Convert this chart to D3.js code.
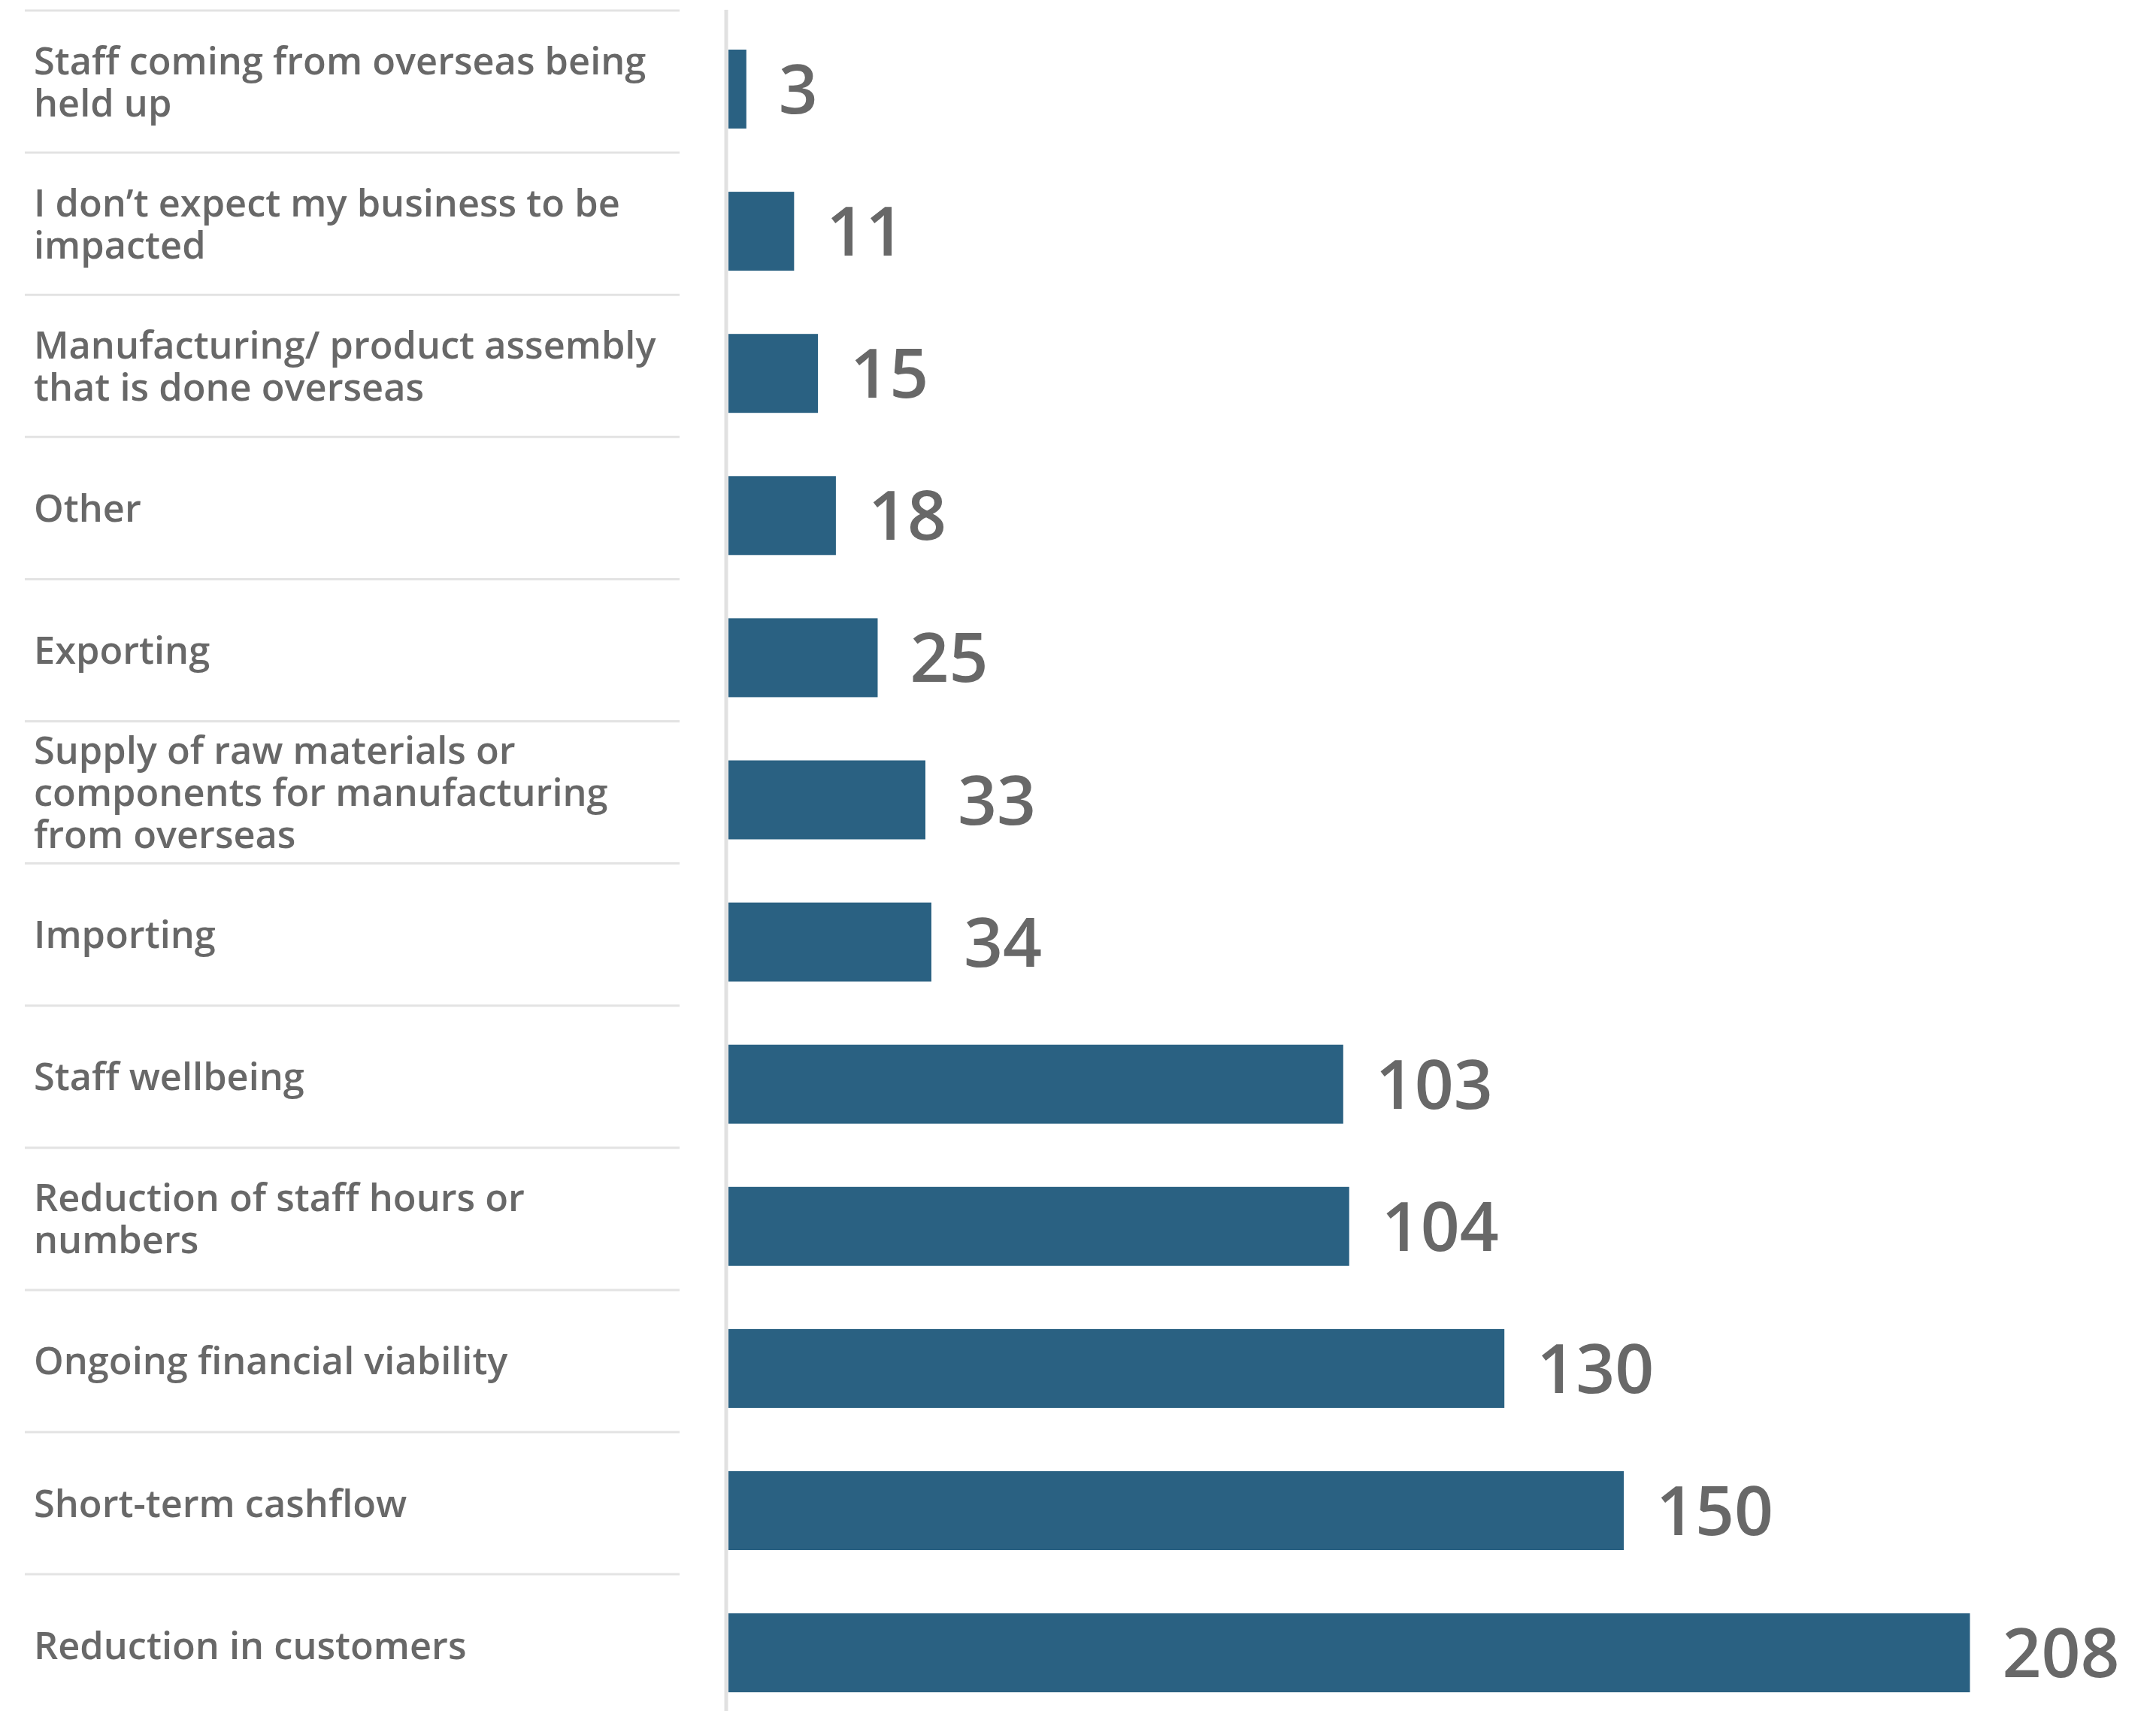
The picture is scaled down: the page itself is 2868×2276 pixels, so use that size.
<!DOCTYPE html>
<html>
<head>
<meta charset="utf-8">
<script src="https://cdn.jsdelivr.net/npm/d3@7/dist/d3.min.js"></script>
<style>
  html, body { margin: 0; padding: 0; background: #ffffff; }
  svg { display: block; }
  text { font-family: "Open Sans", "Noto Sans", sans-serif; }
</style>
</head>
<body>
<svg id="chart"></svg>
<script>
// Concerns reported by businesses (number of responses)
const categories = [
  "Staff coming from overseas being\nheld up",
  "I don\u2019t expect my business to be\nimpacted",
  "Manufacturing/ product assembly\nthat is done overseas",
  "Other",
  "Exporting",
  "Supply of raw materials or\ncomponents for manufacturing\nfrom overseas",
  "Importing",
  "Staff wellbeing",
  "Reduction of staff hours or\nnumbers",
  "Ongoing financial viability",
  "Short-term cashflow",
  "Reduction in customers"
];
const responses = [3, 11, 15, 18, 25, 33, 34, 103, 104, 130, 150, 208];

const W = 2868, H = 2276;
const svg = d3.select("#chart").attr("width", W).attr("height", H);

const rowTop = 14, rowStep = 189.1;
const y = d3.scaleBand()
  .domain(categories)
  .range([rowTop, rowTop + rowStep * categories.length])
  .paddingInner(0).paddingOuter(0);

const x = d3.scaleLinear()
  .domain([0, 208])
  .range([969, 2620.5]);

const textColor = "#686868";
const barColor = "#2a6182";

// row separators under the category labels
svg.append("g")
  .selectAll("line")
  .data(categories)
  .join("line")
  .attr("x1", 33).attr("x2", 904)
  .attr("y1", d => y(d)).attr("y2", d => y(d))
  .attr("stroke", "#e3e3e3")
  .attr("stroke-width", 3);

// vertical baseline
svg.append("line")
  .attr("x1", 966).attr("x2", 966)
  .attr("y1", 13).attr("y2", H)
  .attr("stroke", "#e1e1e1")
  .attr("stroke-width", 5);

// category labels, vertically centred in each row
const fs = 50.5, lh = 56, cap = 36;
const labels = svg.append("g")
  .selectAll("text")
  .data(categories)
  .join("text")
  .attr("fill", textColor)
  .attr("font-size", fs)
  .attr("font-weight", 600)
  .attr("x", 45);

labels.each(function(d) {
  const lines = d.split("\n");
  const cy = y(d) + y.bandwidth() / 2;
  const first = cy + cap / 2 - (lines.length - 1) * lh / 2;
  d3.select(this).selectAll("tspan")
    .data(lines)
    .join("tspan")
    .attr("x", 45)
    .attr("y", (l, i) => first + i * lh)
    .text(l => l);
});

// bars
const barOffset = 52, barH = 105;
const rows = categories.map((c, i) => ({ c, v: responses[i] }));

svg.append("g")
  .selectAll("rect")
  .data(rows)
  .join("rect")
  .attr("x", x(0))
  .attr("y", d => y(d.c) + barOffset)
  .attr("width", d => x(d.v) - x(0))
  .attr("height", barH)
  .attr("fill", barColor);

// value labels
svg.append("g")
  .selectAll("text")
  .data(rows)
  .join("text")
  .attr("x", d => x(d.v) + 43)
  .attr("y", d => y(d.c) + barOffset + barH / 2 + 32.5)
  .attr("fill", textColor)
  .attr("font-size", 91)
  .attr("font-weight", 600)
  .text(d => d.v);
</script>
</body>
</html>
